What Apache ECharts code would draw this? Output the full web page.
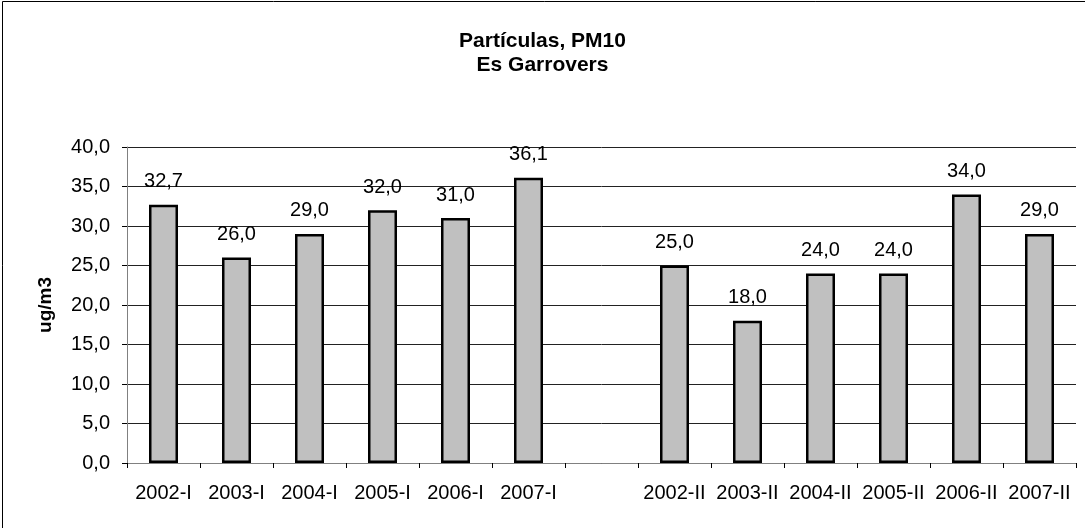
<!DOCTYPE html>
<html>
<head>
<meta charset="utf-8">
<script src="https://cdn.jsdelivr.net/npm/echarts@6/dist/echarts.min.js"></script>
<style>
html,body{margin:0;padding:0;background:#fff;}
#c{width:1085px;height:528px;}
</style>
</head>
<body>
<div id="c"></div>
<script>
const titleLines = ['Partículas, PM10', 'Es Garrovers'];
const categories = ['2002-I','2003-I','2004-I','2005-I','2006-I','2007-I','','2002-II','2003-II','2004-II','2005-II','2006-II','2007-II'];
const values = [32.7, 26.0, 29.0, 32.0, 31.0, 36.1, '-', 25.0, 18.0, 24.0, 24.0, 34.0, 29.0];
const yAxisName = 'ug/m3';
const yMin = 0, yMax = 40, yInterval = 5;

const fmt = v => Number(v).toFixed(1).replace('.', ',');
const FONT = '"Liberation Sans", Arial, sans-serif';
const FS = 20;

const chart = echarts.init(document.getElementById('c'), null, {renderer: 'canvas'});
chart.setOption({
  backgroundColor: '#fff',
  animation: false,
  title: {
    text: titleLines.join('\n'),
    left: 'center',
    top: 24,
    textStyle: {fontFamily: FONT, fontSize: 21, fontWeight: 'bold', color: '#000', lineHeight: 24}
  },
  graphic: [{
    type: 'rect',
    shape: {x: 2.5, y: 1.5, width: 1100, height: 600},
    style: {fill: 'none', stroke: '#000', lineWidth: 1},
    silent: true
  }],
  grid: {left: 127, right: 9, top: 147, bottom: 65, containLabel: false},
  xAxis: {
    type: 'category',
    data: categories,
    axisLine: {lineStyle: {color: '#808080', width: 1}},
    axisTick: {show: true, interval: 0, length: 5, lineStyle: {color: '#000'}},
    axisLabel: {interval: 0, margin: 20, fontFamily: FONT, fontSize: FS, color: '#000'}
  },
  yAxis: {
    type: 'value',
    min: yMin, max: yMax, interval: yInterval,
    name: yAxisName,
    nameLocation: 'middle',
    nameGap: 72,
    nameRotate: 90,
    nameTextStyle: {fontFamily: FONT, fontSize: 19, fontWeight: 'bold', color: '#000'},
    axisLine: {show: true, lineStyle: {color: '#808080', width: 1}},
    axisTick: {show: true, length: 5, lineStyle: {color: '#000'}},
    axisLabel: {margin: 17, formatter: fmt, fontFamily: FONT, fontSize: FS, color: '#000'},
    splitLine: {show: true, lineStyle: {color: '#222', width: 1}}
  },
  series: [{
    type: 'bar',
    data: values,
    barWidth: 29,
    itemStyle: {color: '#C0C0C0', borderColor: '#000', borderWidth: 2.5},
    label: {show: true, position: 'top', distance: 13, formatter: p => fmt(p.value),
            fontFamily: FONT, fontSize: FS, color: '#000'}
  }]
});
</script>
</body>
</html>
